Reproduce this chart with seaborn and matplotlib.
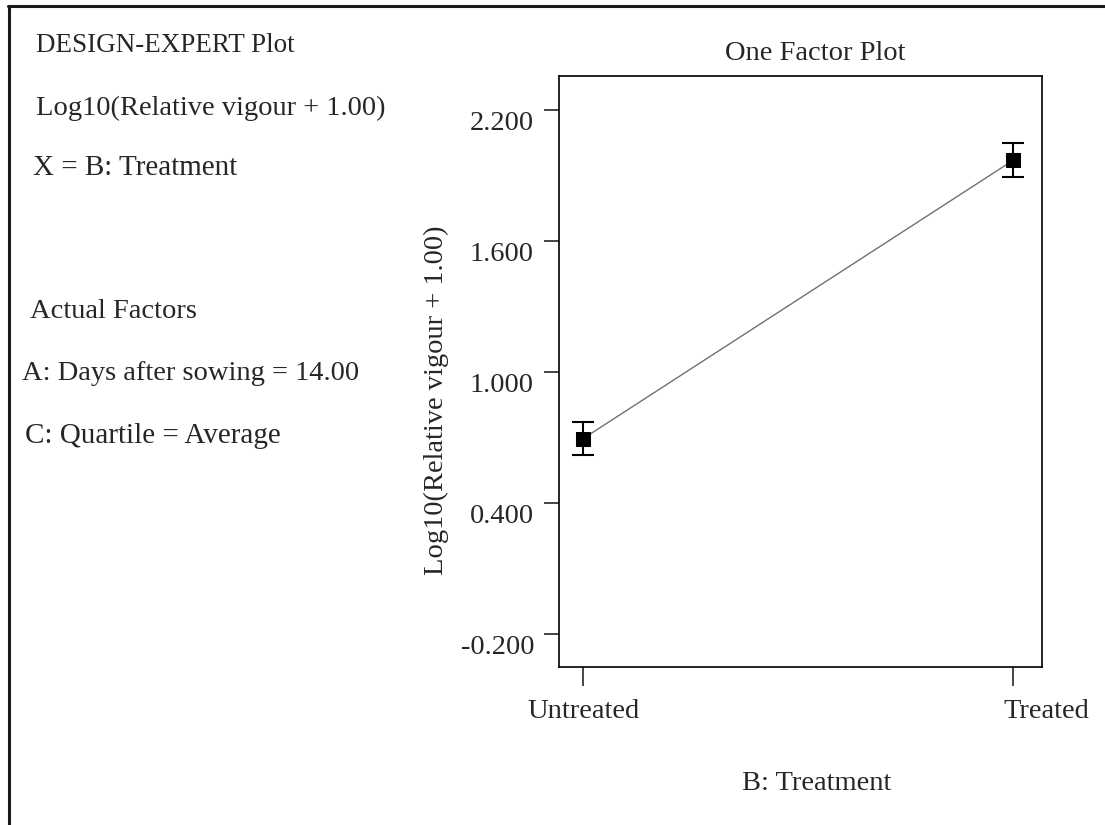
import numpy as np
import pandas as pd
import matplotlib
matplotlib.use("Agg")
import matplotlib.pyplot as plt
import matplotlib.transforms as mtransforms
from matplotlib.lines import Line2D
import seaborn as sns

# data
categories = ["Untreated", "Treated"]
means = [0.695, 1.970]
half_ci = [0.076, 0.078]
y_ticks = [-0.2, 0.4, 1.0, 1.6, 2.2]

sns.set_style("white")
plt.rcParams['font.family'] = ['Liberation Serif', 'DejaVu Serif']

df = pd.DataFrame({"pos": np.arange(len(categories)), "treatment": categories,
                   "mean": means, "err": half_ci})

fig = plt.figure(figsize=(11.05, 8.25), dpi=100)
ax = fig.add_axes([559/1105, 1 - 667/825, (1042 - 559)/1105, (667 - 76)/825])

sns.lineplot(data=df, x="pos", y="mean", ax=ax, color="#707070", linewidth=1,
             marker="s", markersize=10, markerfacecolor="black",
             markeredgecolor="black", zorder=2)
ax.errorbar(df["pos"], df["mean"], yerr=df["err"], fmt="none", ecolor="black",
            elinewidth=1.5, capsize=8, capthick=1.5, zorder=3)

FS = 20.5
ax.set_xlim(-0.056, 1.067)
ax.set_ylim(-0.351, 2.356)
ax.set_yticks(y_ticks)
ax.set_yticklabels([f"{v:.3f}" for v in y_ticks], fontsize=FS)
ax.set_xticks(df["pos"])
ax.set_xticklabels(categories, fontsize=FS)
ax.set_xlabel("")
ax.set_ylabel("")
ax.tick_params(axis="y", direction="out", length=11, width=1.2, pad=7, left=True)
ax.tick_params(axis="x", direction="out", length=14, width=1.2, pad=9, bottom=True)
for s in ax.spines.values():
    s.set_color("black")
    s.set_linewidth(1.2)

# y labels hang just below their ticks, "Treated" sits right of its tick
for lab in ax.get_yticklabels():
    lab.set_transform(lab.get_transform() + mtransforms.ScaledTranslation(0, -0.10, fig.dpi_scale_trans))
lab = ax.get_xticklabels()[1]
lab.set_transform(lab.get_transform() + mtransforms.ScaledTranslation(0.33, 0, fig.dpi_scale_trans))

def fx(px):
    return px / 1105

def fy(py):
    return 1 - py / 825

fig.text(fx(436), fy(400), "Log10(Relative vigour + 1.00)", rotation=90,
         ha="center", va="center", fontsize=FS)
fig.text(fx(815), fy(54), "One Factor Plot", ha="center", va="center", fontsize=FS)
fig.text(fx(817), fy(784), "B: Treatment", ha="center", va="center", fontsize=FS)

left_notes = [
    (36, 46, "DESIGN-EXPERT Plot", 19.5),
    (36, 108, "Log10(Relative vigour + 1.00)", FS),
    (33, 168, "X = B: Treatment", 21),
    (30, 312, "Actual Factors", FS),
    (22, 374, "A: Days after sowing = 14.00", FS),
    (25, 436, "C: Quartile = Average", 21),
]
for x, y, t, size in left_notes:
    fig.text(fx(x), fy(y), t, ha="left", va="center", fontsize=size)

# outer frame (only top and left edges show)
fig.add_artist(Line2D([fx(8), 1], [fy(6), fy(6)], color="#1a1a1a", linewidth=2.2))
fig.add_artist(Line2D([fx(9), fx(9)], [fy(6), 0], color="#1a1a1a", linewidth=2.2))

fig.savefig("out.png", dpi=100)
